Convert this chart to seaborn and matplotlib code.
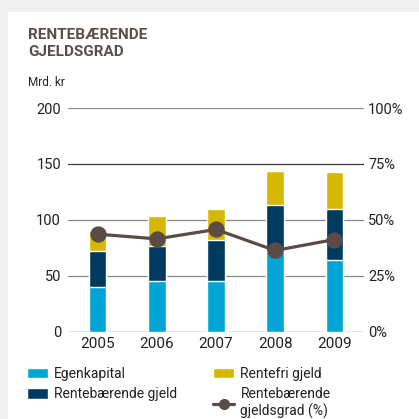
import matplotlib
matplotlib.use("Agg")
import matplotlib.pyplot as plt
import seaborn as sns
from matplotlib.patches import Rectangle, Patch
from matplotlib.lines import Line2D

years = ["2005", "2006", "2007", "2008", "2009"]
egenkapital = [40, 45, 45, 72, 64]
rentebaerende_gjeld = [32, 32, 37, 41, 46]
rentefri_gjeld = [18, 26, 28, 31, 33]
gjeldsgrad = [43.6, 41.5, 45.7, 36.3, 41.2]

left_ticks = [0, 50, 100, 150, 200]
right_ticks = [0, 25, 50, 75, 100]

c_egen = "#00a5d5"
c_gjeld = "#003a5e"
c_fri = "#d6b800"
c_line = "#5a4b46"
c_text = "#222222"
c_title = "#5b4f4a"

sns.set_theme(style="white")
plt.rcParams["font.family"] = ["Roboto", "DejaVu Sans"]

fig = plt.figure(figsize=(4.19, 4.19), dpi=100, facecolor="#f1f1f1")
fig.patches.append(Rectangle((8 / 419, 0), 1, 1 - 12 / 419, transform=fig.transFigure,
                             facecolor="white", edgecolor="none", zorder=-5))

ax = fig.add_axes([68 / 419, 87.3 / 419, 296 / 419, 223.7 / 419])
ax.set_facecolor("none")

# stacked bars: draw cumulative totals back to front
lvl2 = [a + b for a, b in zip(egenkapital, rentebaerende_gjeld)]
lvl3 = [a + b for a, b in zip(lvl2, rentefri_gjeld)]
for vals, col in [(lvl3, c_fri), (lvl2, c_gjeld), (egenkapital, c_egen)]:
    sns.barplot(x=years, y=vals, color=col, width=0.3, saturation=1, ax=ax, zorder=2)

for t in left_ticks:
    gc = "#3a3a3a" if t in (0, 150) else "#8a8a8a"
    ax.axhline(t, color=gc, lw=0.9, zorder=1)

ax.set_xlim(-0.5, 4.5)
ax.set_ylim(0, 200)
ax.set_yticks(left_ticks)
ax.set_xlabel("")
ax.set_ylabel("")
ax.tick_params(axis="y", length=0, pad=5, labelsize=10.5, labelcolor=c_text)
ax.tick_params(axis="x", length=0, pad=4, labelsize=11, labelcolor=c_text)
sns.despine(ax=ax, left=True, bottom=True)

ax2 = ax.twinx()
sns.pointplot(x=years, y=gjeldsgrad, color=c_line, markers="o", markersize=10,
              linewidth=2.3, ax=ax2)
ax2.set_ylim(0, 100)
ax2.set_xlim(-0.5, 4.5)
ax2.set_yticks(right_ticks)
ax2.set_yticklabels([f"{t}%" for t in right_ticks])
ax2.tick_params(axis="y", length=0, pad=3, labelsize=10.5, labelcolor=c_text)
ax2.set_ylabel("")
sns.despine(ax=ax2, left=True, bottom=True, right=True)

fig.text(28 / 419, 1 - 28 / 419, "RENTEBÆRENDE\nGJELDSGRAD", fontsize=11, fontweight="bold",
         color=c_title, va="top", ha="left", linespacing=1.25)
fig.text(28 / 419, 1 - 76 / 419, "Mrd. kr", fontsize=8.5, color=c_text, va="top", ha="left")

handles = [
    Patch(facecolor=c_egen, label="Egenkapital"),
    Patch(facecolor=c_gjeld, label="Rentebærende gjeld"),
    Patch(facecolor=c_fri, label="Rentefri gjeld"),
    Line2D([0], [0], color=c_line, lw=2.3, marker="o", markersize=7,
           label="Rentebærende\ngjeldsgrad (%)"),
]
fig.legend(handles=handles, ncol=2, loc="upper left", bbox_to_anchor=(27 / 419, 1 - 367 / 419),
           frameon=False, fontsize=10, handlelength=1.5, handleheight=0.8, handletextpad=0.45,
           columnspacing=2.6, labelspacing=0.45, labelcolor=c_text, borderaxespad=0,
           borderpad=0)

fig.savefig("out.png", dpi=100, facecolor=fig.get_facecolor())
